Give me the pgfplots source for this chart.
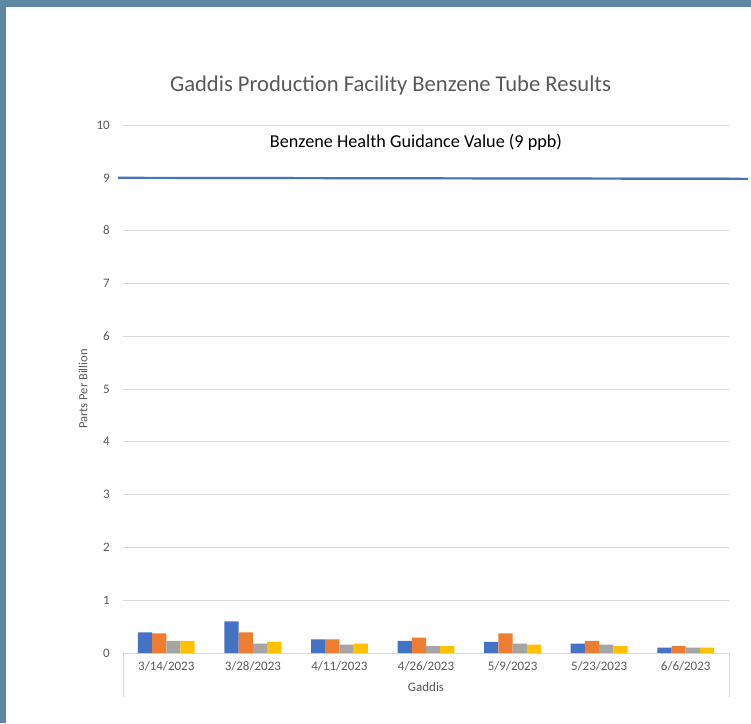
\documentclass[border=0pt]{standalone}
\usepackage{fontspec}
\setmainfont{Carlito}
\usepackage{pgfplots}
\pgfplotsset{compat=1.18}
\definecolor{framecol}{HTML}{5E87A1}
\definecolor{txtgray}{HTML}{595959}
\definecolor{gridgray}{HTML}{D9D9D9}
\definecolor{cblue}{HTML}{4472C4}
\definecolor{corange}{HTML}{ED7D31}
\definecolor{cgray}{HTML}{A5A5A5}
\definecolor{cyellow}{HTML}{FFC000}
\begin{document}
\begin{tikzpicture}
\fill[framecol] (0,0) rectangle (751pt,-723pt);
\fill[white] (6pt,-7pt) rectangle (751pt,-723pt);
\node[anchor=base, text=txtgray, font=\fontsize{22.6}{26}\selectfont] at (390.5pt,-91.7pt) {Gaddis Production Facility Benzene Tube Results};
\node[anchor=base, text=black, font=\fontsize{18.2}{22}\selectfont] at (416pt,-147.3pt) {Benzene Health Guidance Value (9 ppb)};
\begin{axis}[
  at={(123pt,-653pt)}, anchor=south west,
  scale only axis, width=606pt, height=528pt,
  xmin=-0.5, xmax=6.5, ymin=0, ymax=10,
  ytick={0,1,...,10},
  xtick={0,...,6},
  xticklabels={3/14/2023,3/28/2023,4/11/2023,4/26/2023,5/9/2023,5/23/2023,6/6/2023},
  major tick length=0pt,
  ymajorgrids, grid style={gridgray, line width=0.75pt},
  axis x line*=bottom, axis y line*=left,
  x axis line style={gridgray, line width=0.75pt, -},
  y axis line style={draw=none, -},
  /pgf/number format/assume math mode=true,
  ticklabel style={text=txtgray, font=\fontsize{13}{15}\selectfont},
  xticklabel style={anchor=center, yshift=-13pt},
  yticklabel style={anchor=east, inner sep=0pt, xshift=-13pt},
  xlabel={Gaddis},
  xlabel style={at={(axis description cs:0.5,0)}, anchor=center, yshift=-34pt, text=txtgray, font=\fontsize{13}{15}\selectfont},
  ylabel={Parts Per Billion},
  ylabel style={at={([xshift=-40pt]axis description cs:0,0.5)}, anchor=center, text=txtgray, font=\fontsize{12.5}{15}\selectfont},
  ybar=0pt, bar width=14.2pt,
  clip=false,
]
\addplot[fill=cblue, draw=none] coordinates {(0,0.39) (1,0.60) (2,0.26) (3,0.23) (4,0.21) (5,0.18) (6,0.10)};
\addplot[fill=corange, draw=none] coordinates {(0,0.37) (1,0.39) (2,0.26) (3,0.29) (4,0.37) (5,0.23) (6,0.13)};
\addplot[fill=cgray, draw=none] coordinates {(0,0.23) (1,0.18) (2,0.16) (3,0.13) (4,0.18) (5,0.16) (6,0.10)};
\addplot[fill=cyellow, draw=none] coordinates {(0,0.23) (1,0.21) (2,0.18) (3,0.13) (4,0.16) (5,0.13) (6,0.10)};
\addplot[sharp plot, color=cblue, line width=2.2pt, forget plot] coordinates {(-0.558,9) (6.717,8.98)};
\draw[gridgray, line width=0.75pt] (rel axis cs:0,0) -- ([yshift=-44pt]rel axis cs:0,0);
\draw[gridgray, line width=0.75pt] (rel axis cs:1,0) -- ([yshift=-44pt]rel axis cs:1,0);
\end{axis}
\end{tikzpicture}
\end{document}
